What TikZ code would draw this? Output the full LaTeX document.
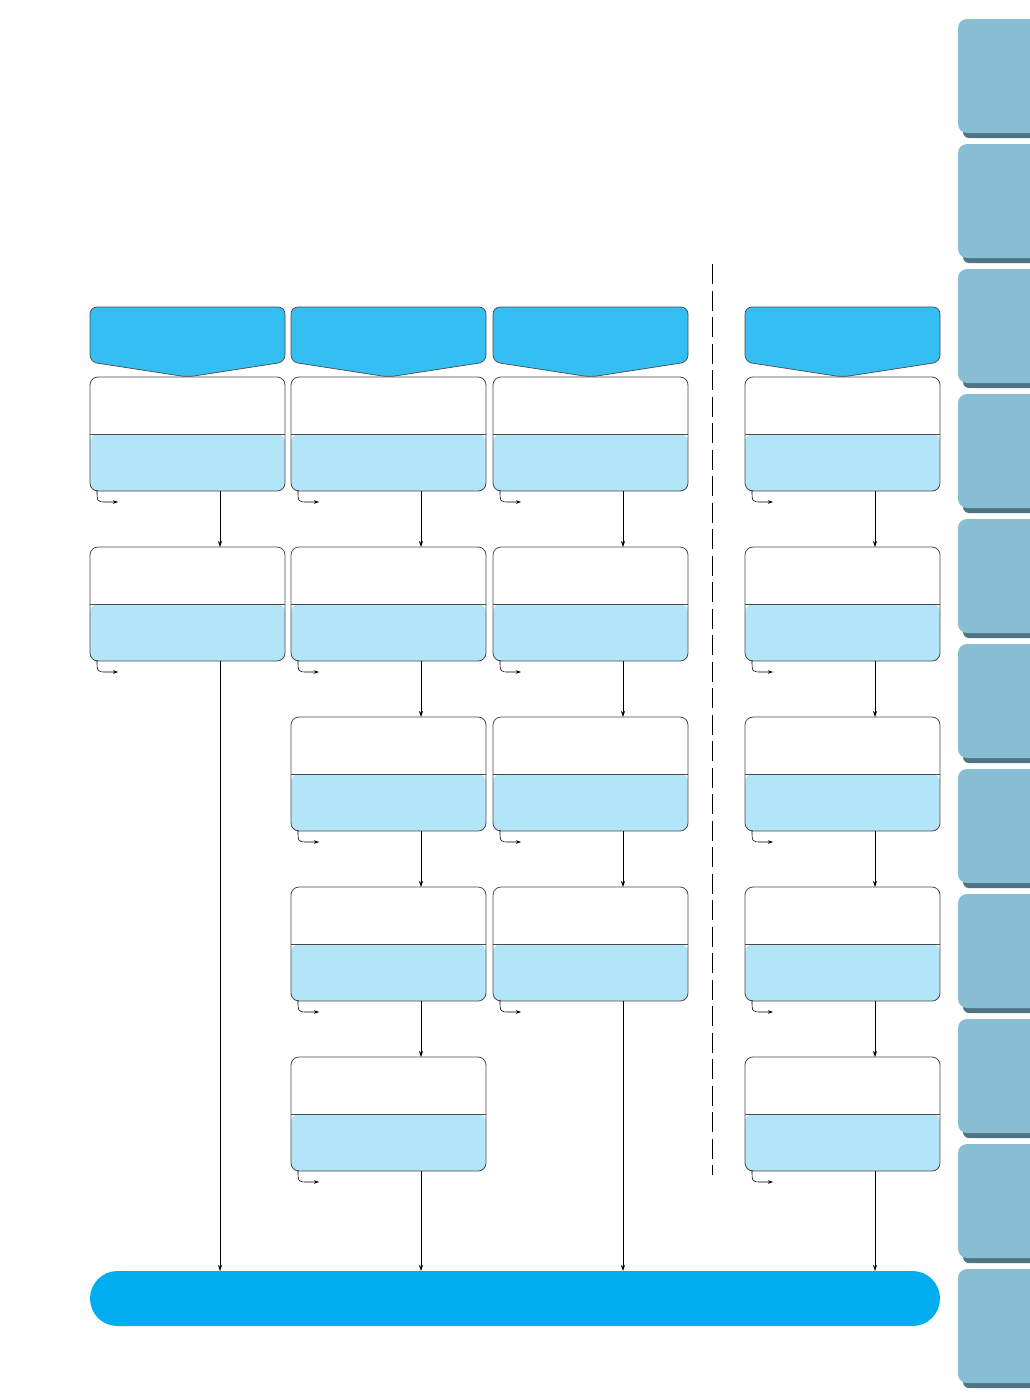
\documentclass[tikz,border=0pt]{standalone}
\usetikzlibrary{arrows.meta,calc}
\definecolor{tabfill}{HTML}{87BED3}
\definecolor{tabshade}{HTML}{4E7483}
\definecolor{hdrfill}{HTML}{34BEF2}
\definecolor{lightfill}{HTML}{B3E5F9}
\definecolor{barfill}{HTML}{00AEEF}
\definecolor{boxline}{HTML}{4A4A4A}
\tikzset{
  box/.style={draw=boxline, line width=0.8pt, rounded corners=8pt,
    minimum width=195pt, minimum height=114pt, inner sep=0pt, outer sep=0pt, fill=white,
    path picture={\fill[lightfill] (path picture bounding box.west) rectangle (path picture bounding box.south east);
      \draw[boxline, line width=0.8pt] (path picture bounding box.west) -- (path picture bounding box.east);}},
  hdr/.style={draw=boxline, line width=0.7pt, fill=hdrfill, rounded corners=7pt},
  conn/.style={draw=black, line width=0.7pt, -{Stealth[length=6pt,width=4pt]}},
  curl/.style={draw=black, line width=0.6pt, -{Stealth[length=5pt,width=3.5pt]}},
  bar/.style={fill=barfill, rounded corners=27.5pt, minimum width=850pt, minimum height=55pt, inner sep=0pt, outer sep=0pt},
  sep/.style={draw=black, line width=0.8pt, dash pattern=on 20pt off 6.5pt},
}
\begin{document}
\begin{tikzpicture}[x=1pt,y=-1pt]
\useasboundingbox (0,0) rectangle (1030,1400);
\fill[white] (0,0) rectangle (1030,1400);
% side tabs
\begin{scope}
\clip (0,0) rectangle (1030,1400);
\foreach \t in {0,...,10}{
  \pgfmathsetmacro{\ty}{19+125*\t}
  \fill[tabshade, rounded corners=6pt] (963,\ty+100) rectangle (1045,\ty+119);
  \fill[tabfill, rounded corners=9pt] (958,\ty) rectangle (1045,\ty+114);
}
\end{scope}
% separator
\draw[sep] (712,264) -- (712,1175);
% headers
\foreach \cx/\n in {187.5/1,388.5/2,590.5/3,842.5/4}{
  \draw[hdr] (\cx-97.5,330) -- (\cx-97.5,307) -- (\cx+97.5,307) -- (\cx+97.5,362) -- (\cx,377) -- (\cx-97.5,362) -- cycle;
  \coordinate (h\n) at (\cx,340);
}
% boxes
\foreach \cx/\c/\rows in {187.5/1/2,388.5/2/5,590.5/3/4,842.5/4/5}{
  \foreach \r in {1,...,\rows}{
    \pgfmathsetmacro{\cy}{434+170*(\r-1)}
    \node[box] (c\c r\r) at (\cx,\cy) {};
  }
}
% bottom bar
\node[bar] (bar) at (515,1298.5) {};
% curls
\foreach \b in {c1r1,c1r2,c2r1,c2r2,c2r3,c2r4,c2r5,c3r1,c3r2,c3r3,c3r4,c4r1,c4r2,c4r3,c4r4,c4r5}{
  \draw[curl] ($(\b.south west)+(7,-1)$) .. controls ($(\b.south west)+(7,11)$) .. ($(\b.south west)+(17,11)$) -- ($(\b.south west)+(28,11)$);
}
% connectors
\foreach \c/\r/\s in {1/1/2,2/1/2,2/2/3,2/3/4,2/4/5,3/1/2,3/2/3,3/3/4,4/1/2,4/2/3,4/3/4,4/4/5}{
  \draw[conn] ([xshift=32.5pt]c\c r\r.south) -- ([xshift=32.5pt]c\c r\s.north);
}
\foreach \b in {c1r2,c2r5,c3r4,c4r5}{
  \draw[conn] ([xshift=32.5pt]\b.south) -- ([xshift=32.5pt]\b.south |- bar.north);
}
\end{tikzpicture}
\end{document}
